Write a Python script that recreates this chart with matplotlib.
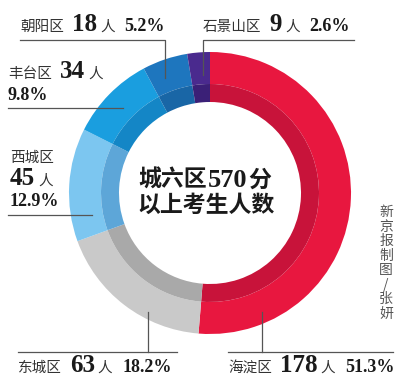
import matplotlib
matplotlib.use("Agg")
import matplotlib.pyplot as plt

# ---- data ----
districts = ['海淀区', '东城区', '西城区', '丰台区', '朝阳区', '石景山区']
counts = [178, 63, 45, 34, 18, 9]
percents = [51.3, 18.2, 12.9, 9.8, 5.2, 2.6]
outer_colors = ['#E8173F', '#C9C9C9', '#7CC6F0', '#1A9EDF', '#1E76BE', '#4A2A8E']
inner_colors = ['#C8133A', '#A9A9A9', '#5DA6D8', '#1486C6', '#1966A6', '#3B2077']
title_lines = ['城六区570分', '以上考生人数']
credit = '新京报制图/张妍'

W, H = 400, 378
fig = plt.figure(figsize=(W / 100, H / 100), dpi=100)
fig.patch.set_facecolor('white')

# ---- donut ----
cx, cy, R = 210, 193, 141
r_mid, r_in = 109, 91
pax = fig.add_axes([(cx - R) / W, (H - cy - R) / H, 2 * R / W, 2 * R / H])
pax.pie(counts, radius=1.0, startangle=90, counterclock=False, colors=outer_colors,
        wedgeprops=dict(width=(R - r_mid) / R, linewidth=0))
pax.pie(counts, radius=r_mid / R, startangle=90, counterclock=False, colors=inner_colors,
        wedgeprops=dict(width=(r_mid - r_in) / R, linewidth=0))
pax.set_xlim(-1, 1)
pax.set_ylim(-1, 1)
pax.set_aspect('auto')
pax.axis('off')

# ---- overlay in pixel coordinates ----
ov = fig.add_axes([0, 0, 1, 1])
ov.set_xlim(0, W)
ov.set_ylim(H, 0)
ov.axis('off')
ov.patch.set_alpha(0)

renderer = fig.canvas.get_renderer()

CJK = dict(family=['Noto Sans CJK SC', 'DejaVu Sans'], fontsize=10.5, color='#333333')
NUM = dict(family=['Liberation Serif', 'DejaVu Serif'], fontweight='bold', fontsize=18, color='#1a1a1a')
PCT = dict(family=['Liberation Serif', 'DejaVu Serif'], fontweight='bold', fontsize=13, color='#1a1a1a')


def row(x, y, pieces):
    for s, kw, gap in pieces:
        t = ov.text(x, y, s, ha='left', va='baseline', **kw)
        bb = t.get_window_extent(renderer)
        x += bb.width + gap
    return x


def label(i, x, y):
    name, n, p = districts[i], counts[i], percents[i]
    row(x, y, [(name, CJK, 8), (str(n), NUM, 3), ('人', CJK, 10), (f'{p}%', PCT, 0)])


LINE = dict(color='#555555', lw=0.9)

# 朝阳区
label(4, 20, 31)
ov.plot([20, 165, 165], [40, 40, 78], **LINE)
# 石景山区
label(5, 203, 31)
ov.plot([354, 203, 203], [40, 40, 75], **LINE)
# 丰台区
row(8, 78, [(districts[3], CJK, 8), (str(counts[3]), NUM, 3), ('人', CJK, 0)])
row(8, 100, [(f'{percents[3]}%', PCT, 0)])
ov.plot([8, 123], [108, 108], **LINE)
# 西城区
row(10, 162, [(districts[2], CJK, 0)])
row(10, 185, [(str(counts[2]), NUM, 3), ('人', CJK, 0)])
row(10, 206, [(f'{percents[2]}%', PCT, 0)])
ov.plot([8, 92], [215, 215], **LINE)
# 东城区
label(1, 18, 372)
ov.plot([18, 177], [352, 352], **LINE)
ov.plot([148, 148], [312, 352], **LINE)
# 海淀区
label(0, 228, 372)
ov.plot([228, 393], [352, 352], **LINE)
ov.plot([262, 262], [312, 352], **LINE)

# ---- centre title ----
CT = dict(family=['Noto Sans CJK SC', 'DejaVu Sans'], fontweight='bold', fontsize=16.5, color='#1a1a1a')
CN = dict(family=['Liberation Serif', 'DejaVu Serif'], fontweight='bold', fontsize=19, color='#1a1a1a')


def centered_row(xc, y, pieces):
    total = 0
    for s, kw, gap in pieces:
        t = ov.text(0, 0, s, **kw)
        total += t.get_window_extent(renderer).width + gap
        t.remove()
    row(xc - total / 2, y, pieces)


centered_row(205, 187, [('城六区', CT, 1), ('570', CN, 1), ('分', CT, 0)])
centered_row(206, 212, [(title_lines[1], CT, 0)])

# ---- credit (vertical) ----
ov.text(386, 205, '\n'.join(credit), ha='center', va='top', family=['Noto Sans CJK SC', 'DejaVu Sans'],
        fontsize=10, color='#555555', linespacing=1.05)

fig.savefig('out.png', dpi=100, facecolor='white')
